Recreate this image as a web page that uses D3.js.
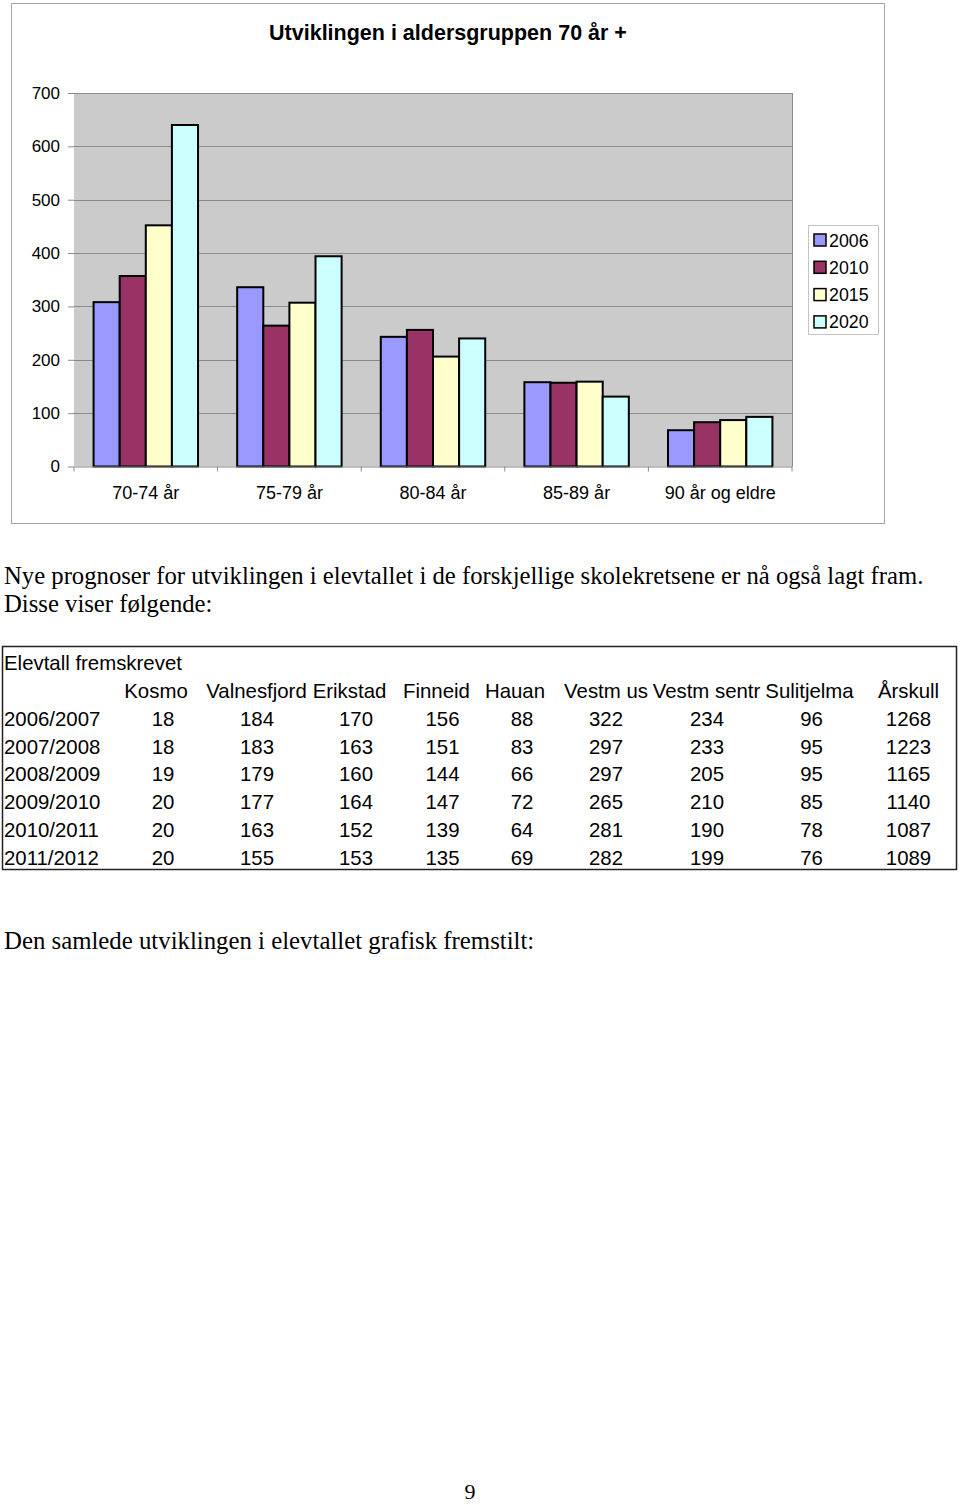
<!DOCTYPE html>
<html><head><meta charset="utf-8">
<script src="https://cdn.jsdelivr.net/npm/d3@7"></script>
<style>html,body{margin:0;padding:0;background:#fff;}svg{display:block;}</style>
</head><body>
<script>
// ---- data ----
const ageGroups = ["70-74 år", "75-79 år", "80-84 år", "85-89 år", "90 år og eldre"];
const years = ["2006", "2010", "2015", "2020"];
const values2006 = [308, 336, 243, 158, 68];
const values2010 = [357, 264, 256, 157, 83];
const values2015 = [452, 307, 206, 159, 87];
const values2020 = [640, 394, 240, 131, 93];
const yTicks = [0, 100, 200, 300, 400, 500, 600, 700];

const schools = ["Kosmo", "Valnesfjord", "Erikstad", "Finneid", "Hauan", "Vestm us", "Vestm sentr", "Sulitjelma", "Årskull"];
const schoolYears = ["2006/2007", "2007/2008", "2008/2009", "2009/2010", "2010/2011", "2011/2012"];
const row2006 = [18, 184, 170, 156, 88, 322, 234, 96, 1268];
const row2007 = [18, 183, 163, 151, 83, 297, 233, 95, 1223];
const row2008 = [19, 179, 160, 144, 66, 297, 205, 95, 1165];
const row2009 = [20, 177, 164, 147, 72, 265, 210, 85, 1140];
const row2010 = [20, 163, 152, 139, 64, 281, 190, 78, 1087];
const row2011 = [20, 155, 153, 135, 69, 282, 199, 76, 1089];

const seriesValues = [values2006, values2010, values2015, values2020];
const tableRows = [row2006, row2007, row2008, row2009, row2010, row2011];

// ---- layout ----
const W = 960, H = 1505;
const sans = "'Liberation Sans', Arial, sans-serif";
const serif = "'Liberation Serif', 'Times New Roman', serif";
const colors = d3.scaleOrdinal().domain(years).range(["#9999FF", "#993366", "#FFFFCC", "#CCFFFF"]);

const svg = d3.select("body").append("svg").attr("width", W).attr("height", H);
svg.append("rect").attr("width", W).attr("height", H).attr("fill", "#fff");

// chart frame
svg.append("rect").attr("x", 11.5).attr("y", 3.5).attr("width", 873).attr("height", 520)
  .attr("fill", "#fff").attr("stroke", "#a6a6a6").attr("stroke-width", 1);

svg.append("text").attr("x", 448).attr("y", 40).attr("text-anchor", "middle")
  .attr("font-family", sans).attr("font-weight", "bold").attr("font-size", 21.5)
  .text("Utviklingen i aldersgruppen 70 år +");

const plot = {left: 74, right: 792, top: 93, bottom: 466.5};
const x0 = d3.scaleBand().domain(ageGroups).range([plot.left, plot.right]).paddingInner(0).paddingOuter(0);
const groupInner = x0.bandwidth() * (4 / 5.5);
const x1 = d3.scaleBand().domain(years).range([0, groupInner]);
const y = d3.scaleLinear().domain([0, 700]).range([plot.bottom, plot.top]);

svg.append("rect").attr("x", plot.left).attr("y", plot.top)
  .attr("width", plot.right - plot.left).attr("height", plot.bottom - plot.top)
  .attr("fill", "#cbcbcb");

// gridlines
svg.append("g").selectAll("line").data(yTicks.filter(d => d > 0)).join("line")
  .attr("x1", plot.left).attr("x2", plot.right)
  .attr("y1", d => Math.round(y(d)) + 0.5).attr("y2", d => Math.round(y(d)) + 0.5)
  .attr("stroke", "#8a8a8a").attr("stroke-width", 1);
// plot border (right)
svg.append("line").attr("x1", plot.right + 0.5).attr("x2", plot.right + 0.5)
  .attr("y1", plot.top).attr("y2", plot.bottom).attr("stroke", "#8a8a8a");

// y axis
const yAxis = svg.append("g").attr("transform", `translate(${plot.left},0)`)
  .call(d3.axisLeft(y).tickValues(yTicks).tickSize(6).tickPadding(8));
yAxis.select(".domain").remove();
yAxis.selectAll("line").attr("stroke", "#8a8a8a");
yAxis.selectAll("text").attr("font-family", sans).attr("font-size", 17).attr("fill", "#000");

// bars
const groups = svg.append("g").selectAll("g").data(ageGroups).join("g")
  .attr("transform", d => `translate(${x0(d) + (x0.bandwidth() - groupInner) / 2},0)`);
groups.selectAll("rect").data((d, i) => years.map((yr, j) => ({yr, v: seriesValues[j][i]}))).join("rect")
  .attr("x", d => x1(d.yr)).attr("width", x1.bandwidth())
  .attr("y", d => y(d.v)).attr("height", d => y(0) - y(d.v))
  .attr("fill", d => colors(d.yr)).attr("stroke", "#000").attr("stroke-width", 2);

// x axis
const xAxis = svg.append("g").attr("transform", `translate(0,${plot.bottom})`)
  .call(d3.axisBottom(x0).tickSize(0).tickPadding(20));
xAxis.select(".domain").attr("stroke", "#8a8a8a");
xAxis.selectAll("text").attr("font-family", sans).attr("font-size", 18).attr("fill", "#000");
svg.append("g").selectAll("line").data(ageGroups.concat(["end"])).join("line")
  .attr("x1", (d, i) => i < ageGroups.length ? x0(d) : plot.right)
  .attr("x2", (d, i) => i < ageGroups.length ? x0(d) : plot.right)
  .attr("y1", plot.bottom).attr("y2", plot.bottom + 5).attr("stroke", "#8a8a8a");

// legend
const lg = svg.append("g");
lg.append("rect").attr("x", 808.5).attr("y", 225.5).attr("width", 70).attr("height", 109)
  .attr("fill", "#fff").attr("stroke", "#c4c4c4");
const li = lg.selectAll("g").data(years).join("g")
  .attr("transform", (d, i) => `translate(814,${240 + i * 27.3})`);
li.append("rect").attr("x", 0).attr("y", -6).attr("width", 12).attr("height", 12)
  .attr("fill", d => colors(d)).attr("stroke", "#000").attr("stroke-width", 1.5);
li.append("text").attr("x", 15).attr("y", 6.5).attr("font-family", sans).attr("font-size", 17.8).text(d => d);

// paragraph text
svg.append("text").attr("x", 4).attr("y", 584).attr("font-family", serif).attr("font-size", 24.7)
  .text("Nye prognoser for utviklingen i elevtallet i de forskjellige skolekretsene er nå også lagt fram.");
svg.append("text").attr("x", 4).attr("y", 612).attr("font-family", serif).attr("font-size", 24.7)
  .text("Disse viser følgende:");

// table
svg.append("rect").attr("x", 2.5).attr("y", 646.5).attr("width", 954).attr("height", 223)
  .attr("fill", "none").attr("stroke", "#222").attr("stroke-width", 1.5);
const tfs = 20.4;
svg.append("text").attr("x", 4).attr("y", 670).attr("font-family", sans).attr("font-size", tfs)
  .text("Elevtall fremskrevet");
const headerX = d3.scaleOrdinal().domain(schools).range([156, 256.5, 349.5, 436.5, 515, 606, 706.5, 809.5, 908.5]);
const cellX = d3.scaleOrdinal().domain(schools).range([163, 257, 356, 442.5, 522, 606, 707, 811.5, 908.5]);
const rowY = d3.scalePoint().domain(["hdr"].concat(schoolYears)).range([698, 864.5]);
svg.append("g").selectAll("text").data(schools).join("text")
  .attr("x", d => headerX(d)).attr("y", rowY("hdr")).attr("text-anchor", "middle")
  .attr("font-family", sans).attr("font-size", tfs).text(d => d);
const rows = svg.append("g").selectAll("g").data(schoolYears).join("g");
rows.append("text").attr("x", 4).attr("y", d => rowY(d)).attr("font-family", sans).attr("font-size", tfs).text(d => d);
rows.each(function (yr, ri) {
  d3.select(this).selectAll("text.v").data(tableRows[ri]).join("text").attr("class", "v")
    .attr("x", (v, ci) => cellX(schools[ci])).attr("y", rowY(yr)).attr("text-anchor", "middle")
    .attr("font-family", sans).attr("font-size", tfs).text(v => v);
});

svg.append("text").attr("x", 4).attr("y", 949).attr("font-family", serif).attr("font-size", 24.8)
  .text("Den samlede utviklingen i elevtallet grafisk fremstilt:");
svg.append("text").attr("x", 470).attr("y", 1499).attr("text-anchor", "middle")
  .attr("font-family", serif).attr("font-size", 22).text("9");
</script>
</body></html>
